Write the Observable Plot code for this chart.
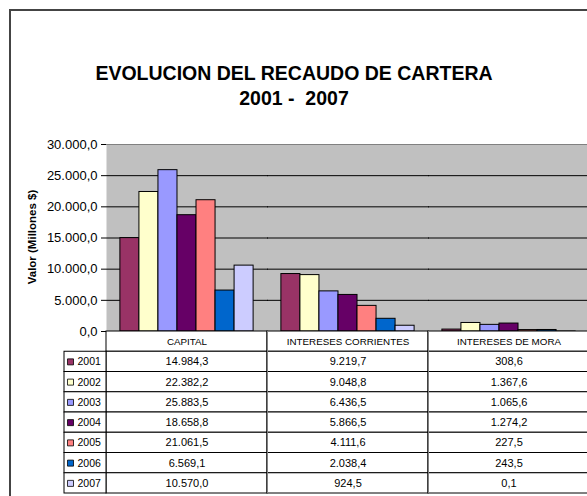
<!DOCTYPE html>
<html>
<head>
<meta charset="utf-8">
<script src="https://cdn.jsdelivr.net/npm/d3@7"></script>
<script src="https://cdn.jsdelivr.net/npm/@observablehq/plot@0.6"></script>
<style>
  html, body { margin: 0; padding: 0; overflow: hidden; background: #fff; }
  #wrap { position: relative; width: 600px; height: 496px; overflow: hidden; font-family: "Liberation Sans", Arial, sans-serif; }
  #wrap svg { position: absolute; left: 0; max-width: none; }
  #title { position: absolute; left: 0; top: 61px; width: 588px; text-align: center; font-weight: bold; font-size: 19.5px; line-height: 25px; white-space: pre; color: #000; }
  #ylabel { position: absolute; left: 32px; top: 237px; transform: translate(-50%, -50%) rotate(-90deg); font-weight: bold; font-size: 11.5px; white-space: nowrap; color: #000; }
  #border { position: absolute; left: 9px; top: 9px; width: 800px; height: 700px; border-left: 2px solid #444; border-top: 2px solid #444; }
</style>
</head>
<body>
<div id="wrap">
  <div id="title">EVOLUCION DEL RECAUDO DE CARTERA
2001 -  2007</div>
  <div id="ylabel">Valor (Millones $)</div>
</div>
<script>
const categories = ["CAPITAL", "INTERESES CORRIENTES", "INTERESES DE MORA"];
const years = ["2001", "2002", "2003", "2004", "2005", "2006", "2007"];
const capital = [14984.3, 22382.2, 25883.5, 18658.8, 21061.5, 6569.1, 10570.0];
const corrientes = [9219.7, 9048.8, 6436.5, 5866.5, 4111.6, 2038.4, 924.5];
const mora = [308.6, 1367.6, 1065.6, 1274.2, 227.5, 243.5, 0.1];
const yTicks = [0, 5000, 10000, 15000, 20000, 25000, 30000];
const colors = ["#993366", "#FFFFCC", "#9999FF", "#660066", "#FF8080", "#0066CC", "#CCCCFF"];

const series = [capital, corrientes, mora];
const data = categories.flatMap((c, ci) => years.map((y, yi) => ({cat: c, ci, year: y, value: series[ci][yi]})));
const loc = d3.formatLocale({decimal: ",", thousands: ".", grouping: [3], currency: ["$", ""]});
const fmt = loc.format(",.1f");
const font = "'Liberation Sans', Arial, sans-serif";
const legendW = 42 / 161;

const chart = Plot.plot({
  width: 590, height: 332,
  marginTop: 144, marginBottom: 1, marginLeft: 106, marginRight: 1,
  style: {background: "transparent", fontFamily: font, fontSize: "13px", color: "#000", overflow: "visible"},
  fx: {domain: categories, padding: 0, axis: null, round: true},
  x: {domain: years, paddingInner: 0, paddingOuter: 0.73, axis: null, round: false},
  y: {domain: [0, 30000], axis: null},
  color: {domain: years, range: colors},
  marks: [
    Plot.frame({fill: "#c0c0c0", stroke: "none", insetRight: -1}),
    Plot.ruleY(yTicks.slice(1, -1), {stroke: "#000", strokeWidth: 1, insetRight: -1}),
    Plot.ruleY([30000], {stroke: "#808080", insetRight: -1}),
    Plot.barY(data, {fx: "cat", x: "year", y: "value", fill: "year", stroke: "#000", strokeWidth: 1}),
    Plot.ruleY([0], {stroke: "#000", insetRight: -1}),
    Plot.axisY({ticks: yTicks, tickFormat: fmt, tickSize: 5, tickPadding: 4, line: true, label: null, stroke: "#000", color: "#000"})
  ]
});
chart.style.top = "0px";

const table = Plot.plot({
  width: 590, height: 166,
  marginTop: 1, marginBottom: 3, marginLeft: 106, marginRight: 1,
  style: {background: "transparent", fontFamily: font, fontSize: "11px", color: "#000", overflow: "visible"},
  x: {domain: [0, 3], axis: null},
  y: {domain: ["hdr", ...years], padding: 0, axis: null, round: false},
  color: {domain: years, range: colors},
  marks: [
    Plot.barX(categories, {x1: (d, i) => i, x2: (d, i) => i + 1, y: () => "hdr", fill: "#fff", stroke: "#000"}),
    Plot.barX(data, {x1: "ci", x2: d => d.ci + 1, y: "year", fill: "#fff", stroke: "#000"}),
    Plot.barX(years, {x1: () => -legendW, x2: () => 0, y: d => d, fill: "#fff", stroke: "#000"}),
    Plot.ruleX([1, 2], {stroke: "#808080"}),
    Plot.text(categories, {x: (d, i) => i + 0.5, y: () => "hdr", text: d => d, fontSize: 9.8, fill: "#000"}),
    Plot.text(data, {x: d => d.ci + 0.5, y: "year", text: d => fmt(d.value), fontSize: 11, fill: "#000"}),
    Plot.dot(years, {y: d => d, frameAnchor: "left", dx: -36, symbol: "square", r: 3.4, fill: d => d, stroke: "#000", strokeWidth: 0.8}),
    Plot.text(years, {y: d => d, frameAnchor: "left", dx: -29, textAnchor: "start", text: d => d, fontSize: 10.5, fill: "#000"})
  ]
});
table.style.top = "330px";

const wrap = document.getElementById("wrap");
wrap.appendChild(chart);
wrap.appendChild(table);
const border = document.createElement("div");
border.id = "border";
wrap.appendChild(border);
</script>
</body>
</html>
